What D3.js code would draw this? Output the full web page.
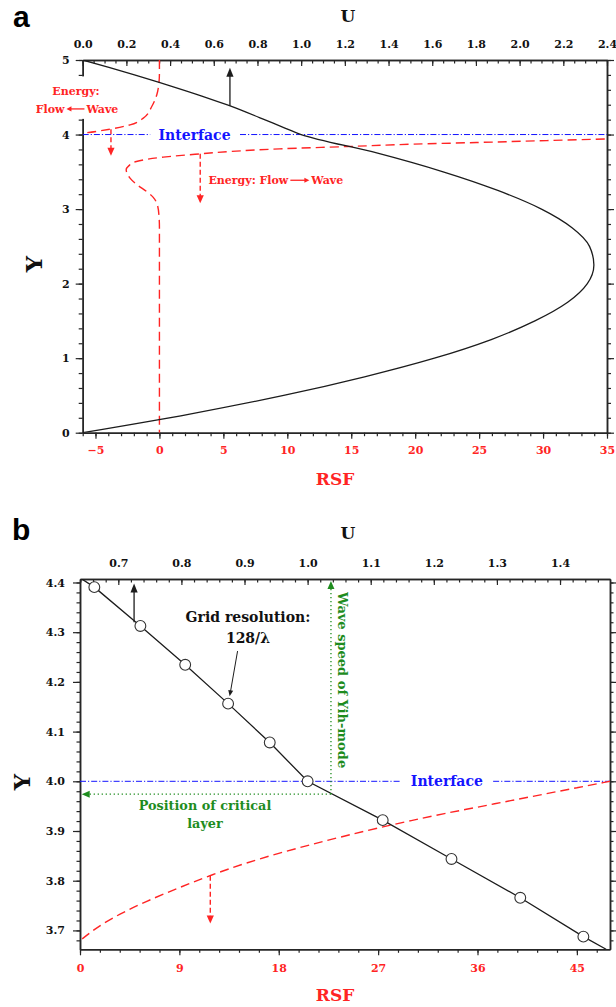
<!DOCTYPE html>
<html>
<head>
<meta charset="utf-8">
<script src="https://cdn.jsdelivr.net/npm/d3@7"></script>
<style>
  body { margin: 0; background: #fff; }
  svg text { font-family: "DejaVu Serif", serif; font-weight: bold; }
</style>
</head>
<body>
<svg id="fig" width="616" height="1007"></svg>
<script>
// ---------------- Panel a: full channel ----------------
const uTicksA   = [0.0, 0.2, 0.4, 0.6, 0.8, 1.0, 1.2, 1.4, 1.6, 1.8, 2.0, 2.2, 2.4];
const yTicksA   = [0, 1, 2, 3, 4, 5];
const rsfTicksA = [-5, 0, 5, 10, 15, 20, 25, 30, 35];

// base-flow velocity profile U(Y)
const profileYA = [0, 0.25, 0.5, 0.75, 1.0, 1.25, 1.5, 1.75, 2.0, 2.25, 2.5, 2.75, 3.0, 3.25, 3.5, 3.75, 4.0, 4.1, 4.2, 4.3, 4.4, 4.5, 4.6, 4.7, 4.8, 4.9, 5.0];
const profileUA = [0, 0.49, 0.92, 1.29, 1.61, 1.87, 2.07, 2.22, 2.31, 2.34, 2.32, 2.24, 2.10, 1.90, 1.65, 1.35, 1.0, 0.915, 0.832, 0.748, 0.659, 0.562, 0.458, 0.35, 0.237, 0.12, 0];

// Reynolds stress function, upper layer branch
const rsfUpperYA = [5.0, 4.82, 4.71, 4.53, 4.376, 4.22, 4.13, 4.072, 4.019, 4.0];
const rsfUpperA  = [0, 0, -0.03, -0.21, -0.6, -1.26, -2.3, -3.87, -5.95, -7.0];
// Reynolds stress function, lower layer branch
const rsfLowerYA = [3.956, 3.942, 3.919, 3.893, 3.871, 3.839, 3.808, 3.772, 3.741, 3.697, 3.638, 3.58, 3.526, 3.47, 3.415, 3.32, 3.235, 3.16, 3.05, 2.9, 2.75, 0];
const rsfLowerA  = [37, 35.0, 30.3, 24.8, 19.9, 14.7, 9.4, 5.5, 3.2, 0.3, -1.8, -2.4, -2.6, -2.5, -2.3, -1.7, -1.0, -0.5, -0.15, -0.03, 0, 0];

const interfaceY = 4.0;

// ---------------- Panel b: close-up near the interface ----------------
const uTicksB   = [0.7, 0.8, 0.9, 1.0, 1.1, 1.2, 1.3, 1.4];
const yTicksB   = [3.7, 3.8, 3.9, 4.0, 4.1, 4.2, 4.3, 4.4];
const rsfTicksB = [0, 9, 18, 27, 36, 45];

// grid points (128 per wavelength) of the velocity profile
const gridYB = [4.390625, 4.3125, 4.234375, 4.15625, 4.078125, 4.0, 3.921875, 3.84375, 3.765625, 3.6875];
const gridUB = [0.662, 0.735, 0.806, 0.874, 0.940, 1.0, 1.119, 1.228, 1.337, 1.437];
// profile continues to the frame edges
const edgeYB = [4.407, 3.662];
const edgeUB = [0.642, 1.473];

const rsfYB = [3.683, 3.712, 3.737, 3.758, 3.786, 3.812, 3.835, 3.855, 3.873, 3.890, 3.906, 3.921, 3.935, 3.948, 3.961, 3.974, 3.987, 4.0];
const rsfB  = [0.2, 2, 4, 6, 9, 12, 15, 18, 21, 24, 27, 30, 33, 36, 39, 42, 45, 48];

const waveSpeedU = 1.037;     // Yih-mode phase speed
const criticalY  = 3.974;     // critical layer position

// ---------------- styling ----------------
const RED = "#ff2424", BLUE = "#1414ff", GREEN = "#1e8c1e", INK = "#1c1c1c", AXIS = "#262626";
const svg = d3.select("#fig");

function addAxis(g, axis, tx, ty, color) {
  const s = g.append("g").attr("transform", `translate(${tx},${ty})`).call(axis);
  s.attr("font-family", null).attr("font-size", null);
  s.select(".domain").attr("stroke", AXIS).attr("stroke-width", 1.5);
  s.selectAll(".tick line").attr("stroke", AXIS).attr("stroke-width", 1.2);
  s.selectAll(".tick text").attr("fill", color || "#111").style("font-size", "11px");
  return s;
}

function arrow(g, x1, y1, x2, y2, color, opt = {}) {
  const hl = opt.head || 8, hw = opt.half || 3.5;
  const len = Math.hypot(x2 - x1, y2 - y1);
  const ux = (x2 - x1) / len, uy = (y2 - y1) / len;
  const bx = x2 - ux * hl, by = y2 - uy * hl;
  g.append("line")
    .attr("x1", x1).attr("y1", y1).attr("x2", bx + ux * 1).attr("y2", by + uy * 1)
    .attr("stroke", color).attr("stroke-width", opt.width || 1.3)
    .attr("stroke-dasharray", opt.dash || null);
  g.append("path")
    .attr("d", `M${x2},${y2}L${bx - uy * hw},${by + ux * hw}L${bx + uy * hw},${by - ux * hw}Z`)
    .attr("fill", color);
}

// text segments with an arrow glyph drawn between words
function arrowText(g, x, y, left, right, color, size, dir, arrowLen, anchor) {
  const t1 = g.append("text").attr("y", y).attr("fill", color).style("font-size", size + "px").text(left);
  const t2 = g.append("text").attr("y", y).attr("fill", color).style("font-size", size + "px").text(right);
  const w1 = t1.node().getComputedTextLength(), w2 = t2.node().getComputedTextLength();
  const gap = 2, total = w1 + gap + arrowLen + gap + w2;
  const x0 = anchor === "middle" ? x - total / 2 : x;
  t1.attr("x", x0);
  t2.attr("x", x0 + w1 + gap * 2 + arrowLen);
  const ay = y - size * 0.33;
  const ax1 = x0 + w1 + gap, ax2 = ax1 + arrowLen;
  if (dir > 0) arrow(g, ax1, ay, ax2, ay, color, { head: 5, half: 2.6, width: 1.3 });
  else arrow(g, ax2, ay, ax1, ay, color, { head: 5, half: 2.6, width: 1.3 });
}

// ================= Panel a =================
{
  const box = { l: 82.7, r: 607, t: 60, b: 432.7 };
  const xU = d3.scaleLinear([0, 2.4], [box.l, box.r]);
  const xR = d3.scaleLinear([-6, 35], [box.l, box.r]);
  const y  = d3.scaleLinear([0, 5], [box.b, box.t]);
  const g = svg.append("g");

  g.append("clipPath").attr("id", "clipA").append("rect")
    .attr("x", box.l).attr("y", box.t).attr("width", box.r - box.l).attr("height", box.b - box.t);

  // minor ticks
  addAxis(g, d3.axisTop(xU).tickValues(d3.range(0, 2.4001, 0.05)).tickSize(-3.5).tickSizeOuter(0).tickFormat(() => ""), 0, box.t);
  addAxis(g, d3.axisLeft(y).tickValues(d3.range(0, 5.001, 0.2)).tickSize(4).tickSizeOuter(0).tickFormat(() => ""), box.l, 0);
  addAxis(g, d3.axisRight(y).tickValues(d3.range(0, 5.001, 0.2)).tickSize(4).tickSizeOuter(0).tickFormat(() => ""), box.r, 0);
  addAxis(g, d3.axisBottom(xR).tickValues(d3.range(-6, 35.001, 1)).tickSize(3.5).tickSizeOuter(0).tickFormat(() => ""), 0, box.b);
  // major ticks + labels
  addAxis(g, d3.axisTop(xU).tickValues(uTicksA).tickSize(-6).tickPadding(12).tickSizeOuter(0).tickFormat(d3.format(".1f")), 0, box.t);
  addAxis(g, d3.axisLeft(y).tickValues(yTicksA).tickSize(7).tickPadding(6).tickSizeOuter(0).tickFormat(d3.format("d")), box.l, 0);
  addAxis(g, d3.axisRight(y).tickValues(yTicksA).tickSize(7).tickSizeOuter(0).tickFormat(() => ""), box.r, 0);
  addAxis(g, d3.axisBottom(xR).tickValues(rsfTicksA).tickSize(6).tickPadding(8).tickSizeOuter(0).tickFormat(d3.format("d")), 0, box.b, RED);

  const plot = g.append("g").attr("clip-path", "url(#clipA)");

  // interface line, broken around its label
  const gapL = xU(0.309), gapR = xU(0.72);
  [[box.l, gapL], [gapR, box.r]].forEach(([a, b]) =>
    plot.append("line").attr("x1", a).attr("x2", b).attr("y1", y(interfaceY)).attr("y2", y(interfaceY))
      .attr("stroke", BLUE).attr("stroke-width", 1).attr("stroke-dasharray", "6,2,1.2,2"));
  g.append("text").attr("x", xU(0.512)).attr("y", y(interfaceY) + 5).attr("text-anchor", "middle")
    .attr("fill", BLUE).style("font-size", "14px").text("Interface");

  // RSF (red dashed)
  const lineR = (ys, vs) => d3.line().curve(d3.curveMonotoneY).x((d, i) => xR(vs[i])).y(d => y(d))(ys);
  [[rsfUpperYA, rsfUpperA], [rsfLowerYA, rsfLowerA]].forEach(([ys, vs]) =>
    plot.append("path").attr("d", lineR(ys, vs)).attr("fill", "none")
      .attr("stroke", RED).attr("stroke-width", 1.4).attr("stroke-dasharray", "9,5"));

  // velocity profile (black)
  const lineU = d3.line().curve(d3.curveMonotoneY).x((d, i) => xU(profileUA[i])).y(d => y(d));
  plot.append("path").attr("d", lineU(profileYA)).attr("fill", "none")
    .attr("stroke", INK).attr("stroke-width", 1.3);

  // arrows
  arrow(g, xU(0.674), y(4.385), xU(0.674), y(4.895), INK, { head: 9, half: 3.6, width: 1.3 });
  arrow(g, xR(-3.79), y(4.072), xR(-3.79), y(3.714), RED, { head: 8, half: 3.6, width: 1.4, dash: "5,3" });
  arrow(g, xR(3.19), y(3.741), xR(3.19), y(3.079), RED, { head: 8, half: 3.6, width: 1.4, dash: "5,3" });

  // energy-transfer labels
  const lab = g.append("g");
  lab.append("text").attr("x", 76).attr("y", y(4.531)).attr("text-anchor", "middle")
    .attr("fill", RED).style("font-size", "11px").text("Energy:");
  arrowText(lab, 77, y(4.295), "Flow", "Wave", RED, 11, -1, 18, "middle");
  const bb = lab.node().getBBox();
  g.insert("rect", () => lab.node())
    .attr("x", bb.x - 2).attr("y", y(4.8) + 1.5).attr("width", bb.width + 4).attr("height", y(4.21) - y(4.8) - 1.5)
    .attr("fill", "#fff");
  arrowText(g, xR(3.83), y(3.338), "Energy: Flow", "Wave", RED, 11, 1, 19, "start");

  // axis titles and panel letter
  g.append("text").attr("x", 348).attr("y", 22).attr("text-anchor", "middle").style("font-size", "17px").attr("fill", "#111").text("U");
  g.append("text").attr("transform", "translate(42,264) rotate(-90)").attr("text-anchor", "middle").style("font-size", "23px").attr("fill", "#111").text("Y");
  g.append("text").attr("x", 335).attr("y", 485).attr("text-anchor", "middle").style("font-size", "17px").attr("fill", RED).text("RSF");
  g.append("text").attr("x", 13).attr("y", 27).style("font-family", '"Liberation Sans", Arial, sans-serif').style("font-size", "30px").attr("fill", "#000").text("a");
}

// ================= Panel b =================
{
  const box = { l: 80, r: 610, t: 579, b: 949.3 };
  const xU = d3.scaleLinear([0.6393, 1.4792], [box.l, box.r]);
  const xR = d3.scaleLinear([0, 48], [box.l, box.r]);
  const y  = d3.scaleLinear([3.662, 4.407], [box.b, box.t]);
  const g = svg.append("g");

  g.append("clipPath").attr("id", "clipB").append("rect")
    .attr("x", box.l).attr("y", box.t).attr("width", box.r - box.l).attr("height", box.b - box.t);

  addAxis(g, d3.axisTop(xU).tickValues(d3.range(0.64, 1.4792, 0.02)).tickSize(-3.5).tickSizeOuter(0).tickFormat(() => ""), 0, box.t);
  addAxis(g, d3.axisLeft(y).tickValues(d3.range(3.68, 4.4001, 0.02)).tickSize(3.5).tickSizeOuter(0).tickFormat(() => ""), box.l, 0);
  addAxis(g, d3.axisRight(y).tickValues(d3.range(3.68, 4.4001, 0.02)).tickSize(3.5).tickSizeOuter(0).tickFormat(() => ""), box.r, 0);
  addAxis(g, d3.axisBottom(xR).tickValues(d3.range(0, 48.001, 1.8)).tickSize(3.5).tickSizeOuter(0).tickFormat(() => ""), 0, box.b);
  addAxis(g, d3.axisTop(xU).tickValues(uTicksB).tickSize(-6).tickPadding(12).tickSizeOuter(0).tickFormat(d3.format(".1f")), 0, box.t);
  addAxis(g, d3.axisLeft(y).tickValues(yTicksB).tickSize(7).tickPadding(8).tickSizeOuter(0).tickFormat(d3.format(".1f")), box.l, 0);
  addAxis(g, d3.axisRight(y).tickValues(yTicksB).tickSize(7).tickSizeOuter(0).tickFormat(() => ""), box.r, 0);
  addAxis(g, d3.axisBottom(xR).tickValues(rsfTicksB).tickSize(6).tickPadding(9).tickSizeOuter(0).tickFormat(d3.format("d")), 0, box.b, RED);

  const plot = g.append("g").attr("clip-path", "url(#clipB)");

  // interface
  const gapL = xU(1.146), gapR = xU(1.294);
  [[box.l, gapL], [gapR, box.r]].forEach(([a, b]) =>
    plot.append("line").attr("x1", a).attr("x2", b).attr("y1", y(interfaceY)).attr("y2", y(interfaceY))
      .attr("stroke", BLUE).attr("stroke-width", 1).attr("stroke-dasharray", "6,2,1.2,2"));
  g.append("text").attr("x", xU(1.2207)).attr("y", y(interfaceY) + 5).attr("text-anchor", "middle")
    .attr("fill", BLUE).style("font-size", "14px").text("Interface");

  // green guides: wave speed and critical layer
  g.append("line").attr("x1", xU(waveSpeedU)).attr("x2", xU(waveSpeedU)).attr("y1", y(criticalY)).attr("y2", y(4.39))
    .attr("stroke", GREEN).attr("stroke-width", 1.3).attr("stroke-dasharray", "1.3,2.7");
  g.append("path").attr("d", `M${xU(waveSpeedU)},${y(4.403)}l-3.5,8h7Z`).attr("fill", GREEN);
  g.append("line").attr("x1", xU(waveSpeedU)).attr("x2", xU(0.653)).attr("y1", y(criticalY)).attr("y2", y(criticalY))
    .attr("stroke", GREEN).attr("stroke-width", 1.3).attr("stroke-dasharray", "1.3,2.7");
  g.append("path").attr("d", `M${xU(0.642)},${y(criticalY)}l8,-3.5v7Z`).attr("fill", GREEN);

  g.append("text").attr("transform", `translate(${xU(waveSpeedU) + 7},${y(4.381)}) rotate(90)`)
    .attr("fill", GREEN).style("font-size", "13px").text("Wave speed of Yih-mode");
  g.append("text").attr("x", xR(11.32)).attr("y", y(3.943)).attr("text-anchor", "middle")
    .attr("fill", GREEN).style("font-size", "12.8px").text("Position of critical");
  g.append("text").attr("x", xR(11.32)).attr("y", y(3.907)).attr("text-anchor", "middle")
    .attr("fill", GREEN).style("font-size", "12.8px").text("layer");

  // RSF
  plot.append("path")
    .attr("d", d3.line().curve(d3.curveMonotoneY).x((d, i) => xR(rsfB[i])).y(d => y(d))(rsfYB))
    .attr("fill", "none").attr("stroke", RED).attr("stroke-width", 1.4).attr("stroke-dasharray", "9,5");
  arrow(g, xR(11.8), y(3.810), xR(11.8), y(3.714), RED, { head: 8, half: 3.6, width: 1.4, dash: "5,3" });

  // velocity profile through grid points
  const ys = [edgeYB[0], ...gridYB, edgeYB[1]];
  const us = [edgeUB[0], ...gridUB, edgeUB[1]];
  plot.append("path")
    .attr("d", d3.line().x((d, i) => xU(us[i])).y(d => y(d))(ys))
    .attr("fill", "none").attr("stroke", INK).attr("stroke-width", 1.3);
  plot.selectAll("circle.grid").data(gridYB).join("circle").attr("class", "grid")
    .attr("cx", (d, i) => xU(gridUB[i])).attr("cy", d => y(d)).attr("r", 5.4)
    .attr("fill", "#fff").attr("stroke", "#333").attr("stroke-width", 1.1);

  arrow(g, xU(0.725), y(4.32), xU(0.725), y(4.398), INK, { head: 9, half: 3.6, width: 1.3 });
  g.append("text").attr("x", xU(0.9055)).attr("y", y(4.3207)).attr("text-anchor", "middle")
    .attr("fill", "#111").style("font-size", "14px").text("Grid resolution:");
  g.append("text").attr("x", xU(0.9055)).attr("y", y(4.278)).attr("text-anchor", "middle")
    .attr("fill", "#111").style("font-size", "14px").text("128/λ");
  arrow(g, xU(0.889), y(4.262), xU(0.8765), y(4.171), INK, { head: 6, half: 2.5, width: 1 });

  g.append("text").attr("x", 348).attr("y", 539).attr("text-anchor", "middle").style("font-size", "17px").attr("fill", "#111").text("U");
  g.append("text").attr("transform", "translate(30,782) rotate(-90)").attr("text-anchor", "middle").style("font-size", "23px").attr("fill", "#111").text("Y");
  g.append("text").attr("x", 335).attr("y", 1001).attr("text-anchor", "middle").style("font-size", "17px").attr("fill", RED).text("RSF");
  g.append("text").attr("x", 12).attr("y", 540).style("font-family", '"Liberation Sans", Arial, sans-serif').style("font-size", "30px").attr("fill", "#000").text("b");
}
</script>
</body>
</html>
